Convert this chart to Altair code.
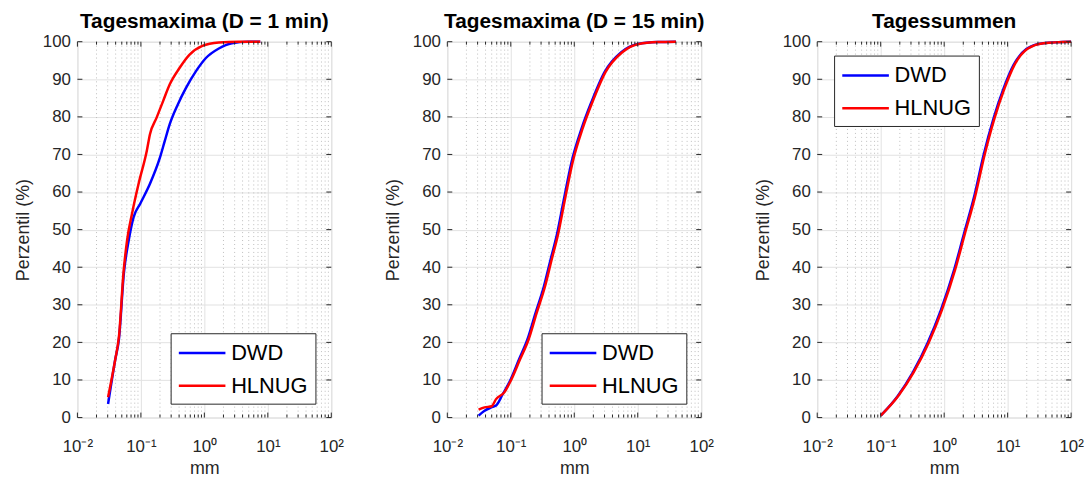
import altair as alt
import pandas as pd

# ---------------- data ----------------
titles = ["Tagesmaxima (D = 1 min)", "Tagesmaxima (D = 15 min)", "Tagessummen"]
series = ["DWD", "HLNUG"]

# Panel 1: Tagesmaxima (D = 1 min)
p1_dwd_x = [0.0304, 0.0395, 0.0451, 0.054, 0.0645, 0.077, 0.0976, 0.139, 0.2, 0.238, 0.284,
            0.382, 0.514, 0.734, 1.05, 1.69, 2.71, 4.9, 7.6]
p1_dwd_y = [3.6, 15.5, 20.9, 38.5, 47.3, 53.4, 56.9, 62.2, 69.2, 73.6, 78.0,
            83.3, 87.7, 92.1, 95.6, 98.2, 99.6, 100, 100]
p1_hl_x = [0.0304, 0.0395, 0.0451, 0.0535, 0.0608, 0.0726, 0.092, 0.124, 0.139, 0.177, 0.224,
           0.284, 0.406, 0.58, 0.93, 1.69, 3.5, 7.6]
p1_hl_y = [5.4, 15.5, 21.5, 39.0, 47.3, 54.3, 62.2, 71.0, 75.4, 79.8, 84.2,
           88.6, 93.0, 96.5, 98.9, 99.8, 100, 100]

# Panel 2: Tagesmaxima (D = 15 min)
p2_dwd_x = [0.0311, 0.0386, 0.049, 0.0586, 0.0745, 0.1, 0.135, 0.182, 0.245, 0.331, 0.42,
            0.536, 0.678, 0.913, 1.31, 1.87, 3.0, 5.5, 10, 20.5, 40]
p2_dwd_y = [0.5, 1.8, 2.7, 3.2, 6.2, 10.2, 15.5, 20.7, 27.8, 34.8, 41.8,
            48.9, 57.6, 68.2, 77.0, 84.0, 91.9, 97.2, 99.4, 99.9, 100]
p2_hl_x = [0.0311, 0.0386, 0.05, 0.0586, 0.079, 0.1, 0.14, 0.19, 0.255, 0.345, 0.437,
           0.558, 0.705, 0.95, 1.36, 1.94, 3.1, 5.7, 10.4, 21, 40]
p2_hl_y = [2.1, 2.7, 3.0, 4.9, 6.7, 9.8, 15.5, 20.7, 27.8, 34.8, 41.8,
           48.9, 57.6, 68.2, 77.0, 84.0, 91.9, 97.2, 99.4, 99.9, 100]

# Panel 3: Tagessummen
p3_dwd_x = [0.1, 0.187, 0.321, 0.55, 0.887, 1.43, 2.05, 2.94, 4.2, 6.0, 8.6, 12.3, 19.9, 36, 100]
p3_dwd_y = [0.5, 5.8, 12.0, 19.9, 28.6, 39.2, 48.9, 58.5, 70.0, 79.6, 87.5, 93.7, 98.1, 99.6, 100]
p3_hl_x = [0.1, 0.19, 0.33, 0.57, 0.92, 1.48, 2.12, 3.04, 4.35, 6.2, 8.9, 12.7, 20.6, 37, 100]
p3_hl_y = [0.5, 5.8, 12.0, 19.9, 28.6, 39.2, 48.9, 58.5, 70.0, 79.6, 87.5, 93.7, 98.1, 99.6, 100]

# axis ticks
x_major = [0.01, 0.1, 1, 10, 100]
x_minor = [m * d for d in [0.01, 0.1, 1, 10] for m in range(2, 10)]
y_major = [0, 10, 20, 30, 40, 50, 60, 70, 80, 90, 100]

# legend placement per panel (relative to plot area)
legend_pos = [(94, 294), (95, 294), (17, 14)]

# ---------------- style ----------------
W, H = 256, 379
FONT = "Liberation Sans"
AX = "#262626"
GRID = "#e2e2e2"
MINOR = "#bdbdbd"
COLORS = ["#0000ff", "#ff0000"]

xs = alt.Scale(type="log", domain=[0.01, 100], nice=False)
ys = alt.Scale(domain=[0, 100], nice=False, zero=False)

label_expr = ("datum.value < 0.05 ? '10⁻²' : datum.value < 0.5 ? '10⁻¹' : "
              "datum.value < 5 ? '10⁰' : datum.value < 50 ? '10¹' : '10²'")

x_axis = alt.Axis(
    values=x_major, labelExpr=label_expr, title="mm", grid=True,
    gridColor=GRID, gridWidth=1, ticks=False, domain=False,
    labelFontSize=17, labelFont=FONT, labelColor=AX, labelPadding=21,
    titleFontSize=18, titleFont=FONT, titleColor=AX, titleFontWeight="normal",
    titlePadding=5, labelFlush=False)
y_axis = alt.Axis(
    values=y_major, title="Perzentil (%)", grid=True, gridColor=GRID,
    gridWidth=1, ticks=False, domain=False, labelFontSize=17, labelFont=FONT,
    labelColor=AX, labelPadding=7, titleFontSize=18, titleFont=FONT,
    titleColor=AX, titleFontWeight="normal", titlePadding=10, labelFlush=False)


def make_df(xd, yd, xh, yh):
    a = pd.DataFrame({"x": xd, "y": yd, "Quelle": "DWD", "o": range(len(xd))})
    b = pd.DataFrame({"x": xh, "y": yh, "Quelle": "HLNUG", "o": range(len(xh))})
    return pd.concat([a, b], ignore_index=True)


def panel(title, df, lpos):
    minor_df = pd.DataFrame({"x": x_minor})
    major_df = pd.DataFrame({"x": x_major})
    ydf = pd.DataFrame({"y": y_major})

    X = alt.X("x:Q", scale=xs, axis=x_axis)
    Y = alt.Y("y:Q", scale=ys, axis=y_axis)

    minor_grid = alt.Chart(minor_df).mark_rule(
        color=MINOR, strokeDash=[1, 3], strokeWidth=1
    ).encode(x=X, y=alt.value(0), y2=alt.value(H))

    lines = alt.Chart(df).mark_line(strokeWidth=2.5, interpolate="monotone").encode(
        x=X, y=Y, order="o:Q",
        color=alt.Color("Quelle:N", scale=alt.Scale(domain=series, range=COLORS),
                        legend=alt.Legend(
                            title=None, orient="none", legendX=lpos[0], legendY=lpos[1],
                            symbolType="M-1,0H3", symbolSize=552, symbolStrokeWidth=2.5,
                            labelFontSize=22, labelFont=FONT, labelColor="#000000",
                            strokeColor=AX, fillColor="white", padding=7,
                            labelOffset=28, rowPadding=9, cornerRadius=0)),
    )

    bot_major = alt.Chart(major_df).mark_rule(color=AX).encode(
        x=X, y=alt.value(H), y2=alt.value(H - 5))
    top_major = alt.Chart(major_df).mark_rule(color=AX).encode(
        x=X, y=alt.value(0), y2=alt.value(5))
    bot_minor = alt.Chart(minor_df).mark_rule(color=AX).encode(
        x=X, y=alt.value(H), y2=alt.value(H - 3))
    top_minor = alt.Chart(minor_df).mark_rule(color=AX).encode(
        x=X, y=alt.value(0), y2=alt.value(3))
    left_t = alt.Chart(ydf).mark_rule(color=AX).encode(
        y=Y, x=alt.value(0), x2=alt.value(5))
    right_t = alt.Chart(ydf).mark_rule(color=AX).encode(
        y=Y, x=alt.value(W - 5), x2=alt.value(W))

    return alt.layer(minor_grid, lines, bot_major, top_major, bot_minor, top_minor,
                     left_t, right_t).properties(
        width=W, height=H,
        title=alt.TitleParams(title, fontSize=21, font=FONT, fontWeight="bold",
                              color="#000000", frame="group", anchor="middle", offset=1))


dfs = [make_df(p1_dwd_x, p1_dwd_y, p1_hl_x, p1_hl_y),
       make_df(p2_dwd_x, p2_dwd_y, p2_hl_x, p2_hl_y),
       make_df(p3_dwd_x, p3_dwd_y, p3_hl_x, p3_hl_y)]

chart = alt.hconcat(*[panel(t, d, p) for t, d, p in zip(titles, dfs, legend_pos)],
                    spacing=40).resolve_scale(color="independent").resolve_legend(
    color="independent").properties(
    padding={"left": 6, "right": 0, "top": 0, "bottom": 0}
).configure_view(stroke=AX, strokeWidth=1).configure(background="white")

chart.save("out.html", embed_options={"renderer": "svg", "actions": False})
